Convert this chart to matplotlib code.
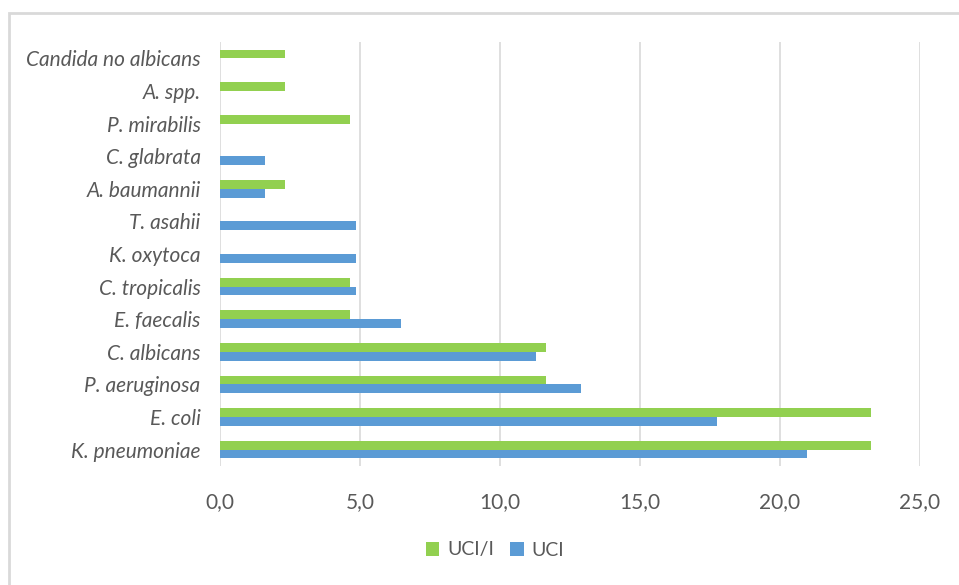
import numpy as np
import matplotlib.pyplot as plt
from matplotlib.patches import Rectangle

# species, listed bottom to top as they appear on the y axis
especies = ["K. pneumoniae", "E. coli", "P. aeruginosa", "C. albicans",
            "E. faecalis", "C. tropicalis", "K. oxytoca", "T. asahii",
            "A. baumannii", "C. glabrata", "P. mirabilis", "A. spp.",
            "Candida no albicans"]

# percentages per unit
uci_i = [23.26, 23.26, 11.63, 11.63, 4.65, 4.65, 0, 0, 2.33, 0, 4.65, 2.33, 2.33]
uci = [20.97, 17.74, 12.90, 11.29, 6.45, 4.84, 4.84, 4.84, 1.61, 1.61, 0, 0, 0]

xticks = [0, 5, 10, 15, 20, 25]
xlabels = ["0,0", "5,0", "10,0", "15,0", "20,0", "25,0"]

verde = "#92d050"
azul = "#5b9bd5"
gris = "#595959"

plt.rcParams['font.family'] = ['Lato', 'DejaVu Sans']

fig = plt.figure(figsize=(9.59, 5.85), dpi=100)
W, H = 959, 585
ax = fig.add_axes([220 / W, 1 - 466 / H, 700 / W, 424 / H])

y = np.arange(len(especies))
h = 0.27
ax.barh(y + h / 2, uci_i, height=h, color=verde, label="UCI/I", zorder=3)
ax.barh(y - h / 2, uci, height=h, color=azul, label="UCI", zorder=3)

ax.set_xlim(0, 25)
ax.set_ylim(-0.5, len(especies) - 0.5)
ax.set_xticks(xticks)
ax.set_xticklabels(xlabels, fontsize=15, color=gris)
ax.set_yticks(y)
ax.set_yticklabels(especies, fontsize=15, color=gris, style='italic')
ax.tick_params(axis='y', length=0, pad=14)
ax.tick_params(axis='x', length=0, pad=19)
ax.grid(axis='x', color="#d9d9d9", linewidth=1.2, zorder=0)
for s in ax.spines.values():
    s.set_visible(False)

leg = fig.legend(loc='center', bbox_to_anchor=(495 / W, 1 - 550 / H), ncol=2,
                 frameon=False, fontsize=14, handlelength=0.7, handleheight=0.7,
                 handletextpad=0.4, columnspacing=0.85)
for t in leg.get_texts():
    t.set_color(gris)

# outer chart border
fig.patches.append(Rectangle((9 / W, -0.1), 1.2, 1 - 13 / H + 0.1,
                             transform=fig.transFigure, fill=False,
                             edgecolor="#d9d9d9", linewidth=2))

fig.savefig("out.png", dpi=100)
